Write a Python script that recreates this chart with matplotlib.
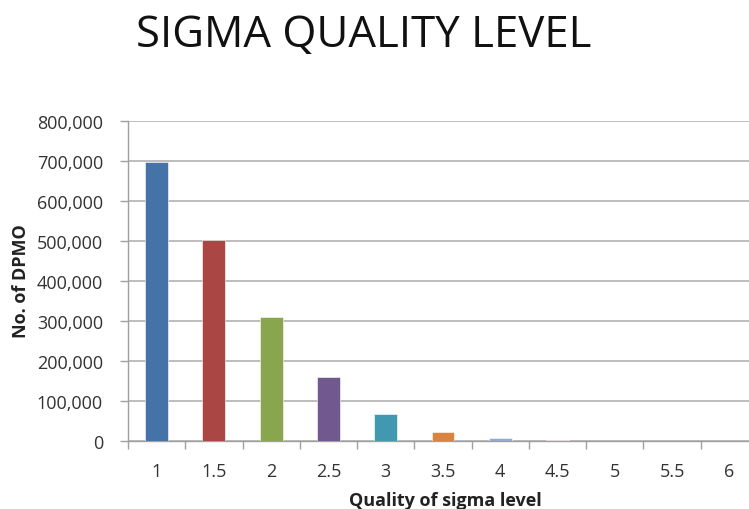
import matplotlib
matplotlib.use("Agg")
import matplotlib.pyplot as plt
from matplotlib.ticker import FuncFormatter, MultipleLocator

# Defects per million opportunities at each sigma level (1.5 sigma shift)
sigma_levels = ["1", "1.5", "2", "2.5", "3", "3.5", "4", "4.5", "5", "5.5", "6"]
dpmo = [697672, 501350, 308537, 158686, 66807, 22750, 6210, 1350, 233, 32, 3.4]
bar_colors = ["#4572A7", "#AA4643", "#89A54E", "#71588F", "#4198AF", "#DB843D",
              "#93A9CF", "#D19392", "#B9CD96", "#A99BBD", "#91C3D5"]

plt.rcParams["font.family"] = ["Open Sans", "DejaVu Sans"]

fig = plt.figure(figsize=(7.49, 5.10), dpi=100)
ax = fig.add_axes([128 / 749, 1 - 441.7 / 510, 630 / 749, 320 / 510])

x = list(range(len(sigma_levels)))
ax.bar(x, dpmo, width=0.4, color=bar_colors, edgecolor="white", linewidth=0.4, zorder=3)

ax.set_xlim(-0.5, len(sigma_levels) - 0.5)
ax.set_ylim(0, 800000)
ax.yaxis.set_major_locator(MultipleLocator(100000))
ax.yaxis.set_major_formatter(FuncFormatter(lambda v, p: f"{int(v):,}"))
ax.grid(axis="y", color="#b8b8b8", linewidth=1.3, zorder=0)

ax.set_xticks(x)
ax.set_xticklabels(sigma_levels)
ax.set_xticks([i + 0.5 for i in x[:-1]] + [-0.5], minor=True)
ax.tick_params(axis="x", which="major", length=0, pad=15, labelsize=13, labelcolor="#333333")
ax.tick_params(axis="x", which="minor", length=6, color="#a0a0a0", width=1)
ax.tick_params(axis="y", length=6, color="#a0a0a0", width=1, pad=12,
               labelsize=13, labelcolor="#333333")

for side in ["top", "right"]:
    ax.spines[side].set_visible(False)
for side in ["left", "bottom"]:
    ax.spines[side].set_color("#a0a0a0")
    ax.spines[side].set_linewidth(1)

ax.set_xlabel("Quality of sigma level", fontsize=13, fontweight="bold", color="#222222")
ax.xaxis.label.set_va("center")
ax.xaxis.set_label_coords((445 - 128) / 630, -(501 - 441.7) / 320)

ax.set_ylabel("No. of DPMO", fontsize=13, fontweight="bold", color="#222222")
ax.yaxis.label.set_va("center")
ax.yaxis.set_label_coords((21 - 128) / 630, (441.7 - 281) / 320)

fig.text(364 / 749, 1 - 36 / 510, "SIGMA QUALITY LEVEL", ha="center", va="center",
         fontsize=31.5, color="#111111")

fig.savefig("out.png", dpi=100)
